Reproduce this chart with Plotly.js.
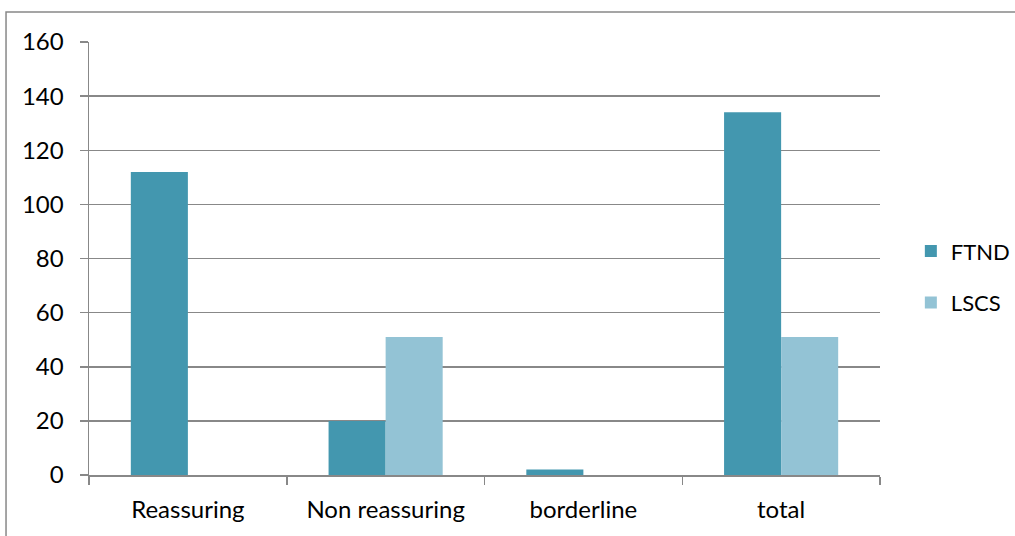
<!DOCTYPE html>
<html>
<head>
<meta charset="utf-8">
<script src="https://cdn.plot.ly/plotly-3.0.1.min.js"></script>
<style>html,body{margin:0;padding:0;background:#fff}#chart{width:1015px;height:536px}</style>
</head>
<body>
<div id="chart"></div>
<script>
const categories = ["Reassuring", "Non reassuring", "borderline", "total"];
const ftnd = [112, 20, 2, 134];
const lscs = [0, 51, 0, 51];
const seriesNames = ["FTND", "LSCS"];
const yTicks = [0, 20, 40, 60, 80, 100, 120, 140, 160];

const font = {family: "Lato, 'Open Sans', sans-serif", size: 24, color: "#000"};
const legendFont = {family: "Lato, 'Open Sans', sans-serif", size: 22, color: "#000"};
const data = [
  {type: "bar", name: seriesNames[0], x: categories, y: ftnd, marker: {color: "#4397AF"}, legendgroup: "a"},
  {type: "bar", name: seriesNames[1], x: categories, y: lscs, marker: {color: "#93C3D5"}, legendgroup: "b"}
];
const layout = {
  width: 1015, height: 536,
  margin: {l: 89, r: 135, t: 42, b: 61, autoexpand: false},
  paper_bgcolor: "#fff", plot_bgcolor: "#fff",
  font: font,
  barmode: "group", bargap: 0.423, bargroupgap: 0,
  xaxis: {
    type: "category", showgrid: false, showline: true, linecolor: "#888", linewidth: 1.5,
    ticks: "outside", tickson: "boundaries", ticklen: 8, tickcolor: "#888", tickwidth: 1.5,
    ticklabelstandoff: 13, tickfont: font, fixedrange: true, automargin: false
  },
  yaxis: {
    range: [0, 160], tickvals: yTicks, showgrid: true, gridcolor: "#888", gridwidth: 1.5,
    showline: true, linecolor: "#888", linewidth: 1.5, zeroline: false,
    ticks: "outside", ticklen: 8, tickcolor: "#888", tickwidth: 1.5,
    ticklabelstandoff: 11, tickfont: font, fixedrange: true, automargin: false
  },
  legend: {x: 1.039, y: 0.457, xanchor: "left", yanchor: "middle", font: legendFont,
    traceorder: "grouped", tracegroupgap: 20, itemwidth: 30, bgcolor: "rgba(0,0,0,0)"},
  shapes: [
    {type: "rect", xref: "paper", yref: "paper", x0: -0.1049, x1: 1.175, y0: -0.2, y1: 1.0693,
     line: {color: "#888", width: 1.5}, fillcolor: "rgba(0,0,0,0)", layer: "below"}
  ]
};
Plotly.newPlot("chart", data, layout, {displayModeBar: false, staticPlot: true});
</script>
</body>
</html>
